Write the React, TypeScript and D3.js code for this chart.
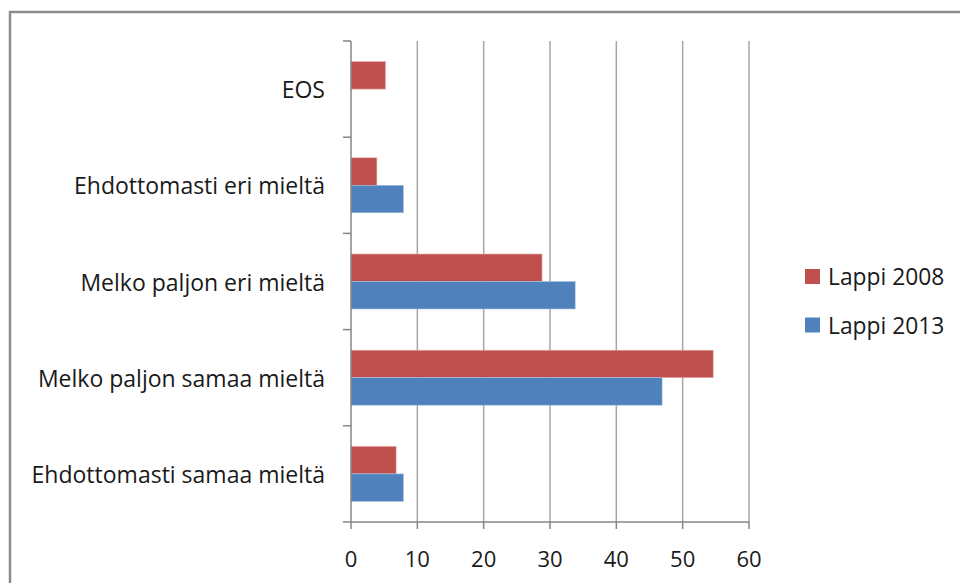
import React, { useEffect, useRef } from "react";
import * as d3 from "d3";

const categories = [
  "EOS",
  "Ehdottomasti eri mieltä",
  "Melko paljon eri mieltä",
  "Melko paljon samaa mieltä",
  "Ehdottomasti samaa mieltä",
];
const seriesNames = ["Lappi 2008", "Lappi 2013"];
const values2008 = [5.2, 3.9, 28.8, 54.6, 6.8];
const values2013 = [0, 7.9, 33.8, 46.9, 7.9];
const xTicks = [0, 10, 20, 30, 40, 50, 60];
const colors = ["#C0504D", "#4F81BD"];

const W = 960;
const H = 583;
const FONT = "'Open Sans', Lato, sans-serif";

export default function App() {
  const ref = useRef<SVGSVGElement | null>(null);

  useEffect(() => {
    const svg = d3.select(ref.current);
    svg.selectAll("*").remove();

    // outer frame
    svg
      .append("rect")
      .attr("x", 10)
      .attr("y", 12)
      .attr("width", W + 20)
      .attr("height", H + 20)
      .attr("fill", "#fff")
      .attr("stroke", "#8c8c8c")
      .attr("stroke-width", 2.5);

    const left = 351;
    const right = 749;
    const top = 41;
    const bottom = 522;

    const x = d3.scaleLinear().domain([0, 60]).range([left, right]);
    const y = d3.scaleBand<string>().domain(categories).range([top, bottom]).paddingInner(0).paddingOuter(0);

    const bw = y.bandwidth();
    const barH = bw / 3.5;

    // gridlines
    svg
      .append("g")
      .selectAll("line")
      .data(xTicks.filter((t) => t !== 0))
      .join("line")
      .attr("x1", (d) => x(d))
      .attr("x2", (d) => x(d))
      .attr("y1", top)
      .attr("y2", bottom)
      .attr("stroke", "#a6a6a6")
      .attr("stroke-width", 1.5);

    // bars
    const series = [values2008, values2013];
    series.forEach((vals, si) => {
      svg
        .append("g")
        .selectAll("rect")
        .data(categories)
        .join("rect")
        .attr("x", x(0))
        .attr("y", (d) => (y(d) as number) + bw / 2 - barH + si * barH)
        .attr("width", (_d, i) => Math.max(0, x(vals[i]) - x(0)))
        .attr("height", barH)
        .attr("fill", colors[si])
        .attr("stroke", si === 0 ? "#e6a9a7" : "#a9c1e0")
        .attr("stroke-width", 0.6)
        .attr("display", (_d, i) => (vals[i] > 0 ? null : "none"));
    });

    // y axis
    const axisColor = "#868686";
    svg
      .append("line")
      .attr("x1", left)
      .attr("x2", left)
      .attr("y1", top)
      .attr("y2", bottom)
      .attr("stroke", axisColor)
      .attr("stroke-width", 1.5);
    const yTickPos = d3.range(categories.length + 1).map((i) => top + i * bw);
    svg
      .append("g")
      .selectAll("line")
      .data(yTickPos)
      .join("line")
      .attr("x1", left - 8)
      .attr("x2", left)
      .attr("y1", (d) => d)
      .attr("y2", (d) => d)
      .attr("stroke", axisColor)
      .attr("stroke-width", 1.5);

    // x axis
    svg
      .append("line")
      .attr("x1", left)
      .attr("x2", right)
      .attr("y1", bottom)
      .attr("y2", bottom)
      .attr("stroke", axisColor)
      .attr("stroke-width", 1.5);
    svg
      .append("g")
      .selectAll("line")
      .data(xTicks)
      .join("line")
      .attr("x1", (d) => x(d))
      .attr("x2", (d) => x(d))
      .attr("y1", bottom)
      .attr("y2", bottom + 7)
      .attr("stroke", axisColor)
      .attr("stroke-width", 1.5);

    svg
      .append("g")
      .selectAll("text")
      .data(xTicks)
      .join("text")
      .attr("x", (d) => x(d))
      .attr("y", 558)
      .attr("text-anchor", "middle")
      .attr("dominant-baseline", "central")
      .attr("font-family", FONT)
      .attr("font-size", 22)
      .attr("fill", "#1a1a1a")
      .text((d) => String(d));

    // category labels
    svg
      .append("g")
      .selectAll("text")
      .data(categories)
      .join("text")
      .attr("x", 325)
      .attr("y", (d) => (y(d) as number) + bw / 2)
      .attr("text-anchor", "end")
      .attr("dominant-baseline", "central")
      .attr("font-family", FONT)
      .attr("font-size", 23)
      .attr("fill", "#1a1a1a")
      .text((d) => d);

    // legend
    const legY = [276.5, 325];
    seriesNames.forEach((name, i) => {
      svg
        .append("rect")
        .attr("x", 805)
        .attr("y", legY[i] - 7.5)
        .attr("width", 15)
        .attr("height", 15)
        .attr("fill", colors[i]);
      svg
        .append("text")
        .attr("x", 828)
        .attr("y", legY[i])
        .attr("dominant-baseline", "central")
        .attr("font-family", FONT)
        .attr("font-size", 22.8)
        .attr("fill", "#1a1a1a")
        .text(name);
    });
  }, []);

  return (
    <svg
      ref={ref}
      width={W}
      height={H}
      style={{ position: "absolute", left: 0, top: 0, background: "#fff" }}
    />
  );
}
